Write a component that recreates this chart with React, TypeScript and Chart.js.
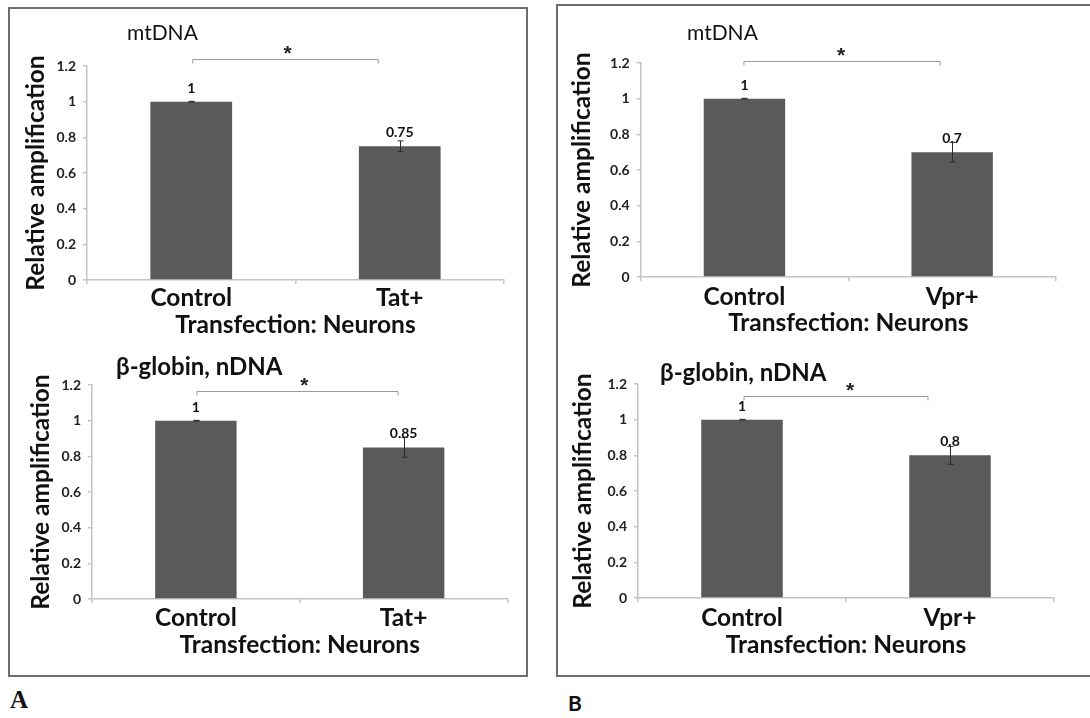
import React, { useEffect, useRef } from "react";
import { Chart, registerables } from "chart.js";

Chart.register(...registerables);

// ---------- data ----------
const categoriesTat = ["Control", "Tat+"];
const categoriesVpr = ["Control", "Vpr+"];

const mtTatValues = [1, 0.75];
const mtTatErrors = [0.002, 0.03];
const globinTatValues = [1, 0.85];
const globinTatErrors = [0.002, 0.055];
const mtVprValues = [1, 0.7];
const mtVprErrors = [0.002, 0.055];
const globinVprValues = [1, 0.8];
const globinVprErrors = [0.002, 0.05];

const yTicks = [0, 0.2, 0.4, 0.6, 0.8, 1, 1.2];
const yTickLabels = ["0", "0.2", "0.4", "0.6", "0.8", "1", "1.2"];

const titleMt = "mtDNA";
const titleGlobin = "\u03b2-globin, nDNA";
const xAxisTitle = "Transfection: Neurons";
const yAxisTitle = "Relative amplification";
const significanceMark = "*";

// ---------- style ----------
const FONT = "Lato, 'Open Sans', sans-serif";
const BAR = "#5a5a5a";
const AXIS = "#c4c4c4";
const TEXT = "#111111";
const BIG = 24.5;

type Spec = {
  left: number;
  top: number;
  width: number;
  height: number;
  categories: string[];
  values: number[];
  errors: number[];
  title: string;
  titleBold: boolean;
  titleSize: number;
  titleDx: number;
  titleDy: number;
  padTop: number;
  padRight: number;
  yWidth: number;
  xHeight: number;
  yTitlePad: number;
  xTickPad: number;
  sigLevel: number;
  sigStartDx: number;
  sigEndDx: number;
  starDx: number;
};

const specs: Spec[] = [
  {
    left: 10, top: 9, width: 516, height: 331,
    categories: categoriesTat, values: mtTatValues, errors: mtTatErrors,
    title: titleMt, titleBold: false, titleSize: 21, titleDx: 40, titleDy: -33,
    padTop: 57, padRight: 22, yWidth: 77, xHeight: 60, yTitlePad: 11, xTickPad: -1,
    sigLevel: 1.239, sigStartDx: 1.5, sigEndDx: -21.5, starDx: 2,
  },
  {
    left: 10, top: 340, width: 516, height: 320,
    categories: categoriesTat, values: globinTatValues, errors: globinTatErrors,
    title: titleGlobin, titleBold: true, titleSize: 24, titleDx: 24, titleDy: -18,
    padTop: 45, padRight: 18.5, yWidth: 82, xHeight: 61, yTitlePad: 16, xTickPad: 0,
    sigLevel: 1.166, sigStartDx: 1, sigEndDx: -5.6, starDx: 7,
  },
  {
    left: 560, top: 9, width: 530, height: 329,
    categories: categoriesVpr, values: mtVprValues, errors: mtVprErrors,
    title: titleMt, titleBold: false, titleSize: 21, titleDx: 46.4, titleDy: -30,
    padTop: 54, padRight: 34, yWidth: 80.6, xHeight: 61, yTitlePad: 7, xTickPad: 1,
    sigLevel: 1.211, sigStartDx: -0.5, sigEndDx: -12, starDx: -1,
  },
  {
    left: 560, top: 340, width: 530, height: 320,
    categories: categoriesVpr, values: globinVprValues, errors: globinVprErrors,
    title: titleGlobin, titleBold: true, titleSize: 24, titleDx: 22, titleDy: -11,
    padTop: 44, padRight: 36, yWidth: 78, xHeight: 62, yTitlePad: 8, xTickPad: 1,
    sigLevel: 1.133, sigStartDx: 2, sigEndDx: -22, starDx: 14,
  },
];

function makeAnnotations(spec: Spec) {
  return {
    id: "annotations",
    afterDraw(chart: any) {
      const { ctx, chartArea } = chart;
      const x = chart.scales.x;
      const y = chart.scales.y;
      ctx.save();
      // value labels
      ctx.fillStyle = TEXT;
      ctx.font = `bold 14px ${FONT}`;
      ctx.textAlign = "center";
      ctx.textBaseline = "middle";
      spec.values.forEach((v, i) => {
        const cx = x.getPixelForValue(i);
        ctx.fillText(String(v), cx, y.getPixelForValue(v) - 13.5);
      });
      // error bars
      ctx.strokeStyle = "#2a2a2a";
      ctx.lineWidth = 1;
      spec.values.forEach((v, i) => {
        const cx = Math.round(x.getPixelForValue(i)) + 0.5;
        const e = spec.errors[i];
        const yt = y.getPixelForValue(v + e);
        const yb = y.getPixelForValue(v - e);
        ctx.beginPath();
        ctx.moveTo(cx, yt);
        ctx.lineTo(cx, yb);
        ctx.moveTo(cx - 3, yt);
        ctx.lineTo(cx + 3, yt);
        ctx.moveTo(cx - 3, yb);
        ctx.lineTo(cx + 3, yb);
        ctx.stroke();
      });
      // significance bracket
      const x0 = x.getPixelForValue(0) + spec.sigStartDx;
      const x1 = x.getPixelForValue(1) + spec.sigEndDx;
      const ys = Math.round(y.getPixelForValue(spec.sigLevel)) + 0.5;
      ctx.strokeStyle = "#9a9a9a";
      ctx.lineWidth = 1;
      ctx.beginPath();
      ctx.moveTo(x0, ys + 4);
      ctx.lineTo(x0, ys);
      ctx.lineTo(x1, ys);
      ctx.lineTo(x1, ys + 4);
      ctx.stroke();
      ctx.fillStyle = "#222";
      ctx.font = "bold 21px 'Liberation Sans', Arial, sans-serif";
      ctx.textAlign = "center";
      ctx.textBaseline = "middle";
      ctx.fillText(significanceMark, (x0 + x1) / 2 + spec.starDx, ys - 5);
      // panel title
      ctx.fillStyle = TEXT;
      ctx.font = `${spec.titleBold ? "bold " : ""}${spec.titleSize}px ${FONT}`;
      ctx.textAlign = "left";
      ctx.textBaseline = "middle";
      ctx.fillText(spec.title, chartArea.left + spec.titleDx, chartArea.top + spec.titleDy);
      ctx.restore();
    },
  };
}

function BarPanel({ spec }: { spec: Spec }) {
  const ref = useRef<HTMLCanvasElement | null>(null);
  useEffect(() => {
    if (!ref.current) return;
    const chart = new Chart(ref.current, {
      type: "bar",
      data: {
        labels: spec.categories,
        datasets: [
          {
            data: spec.values,
            backgroundColor: BAR,
            borderWidth: 0,
            barPercentage: 0.392,
            categoryPercentage: 1,
          },
        ],
      },
      options: {
        animation: false,
        responsive: false,
        maintainAspectRatio: false,
        devicePixelRatio: 1,
        layout: { padding: { top: spec.padTop, right: spec.padRight, left: 0, bottom: 0 } },
        plugins: {
          legend: { display: false },
          tooltip: { enabled: false },
          title: { display: false },
        },
        scales: {
          x: {
            grid: {
              display: true,
              drawOnChartArea: false,
              drawTicks: true,
              tickLength: 4,
              color: AXIS,
              lineWidth: 1.5,
              offset: true,
            },
            border: { display: true, color: AXIS, width: 1.5 },
            ticks: {
              font: { family: FONT, size: BIG, weight: "bold" },
              color: TEXT,
              padding: spec.xTickPad,
              maxRotation: 0,
              autoSkip: false,
            },
            title: {
              display: true,
              text: xAxisTitle,
              font: { family: FONT, size: BIG, weight: "bold" },
              color: TEXT,
              padding: { top: 0, bottom: 0 },
            },
            afterFit: (s: any) => {
              s.height = spec.xHeight;
            },
          },
          y: {
            min: 0,
            max: 1.2,
            afterBuildTicks: (s: any) => {
              s.ticks = yTicks.map((v) => ({ value: v }));
            },
            ticks: {
              callback: (v: any) => yTickLabels[yTicks.indexOf(Number(v))] ?? String(v),
              font: { family: FONT, size: 14, weight: "bold" },
              color: "#222",
              padding: 7,
            },
            grid: {
              display: true,
              drawOnChartArea: false,
              drawTicks: true,
              tickLength: 4,
              color: AXIS,
              lineWidth: 1.5,
            },
            border: { display: true, color: AXIS, width: 1.5 },
            title: {
              display: true,
              text: yAxisTitle,
              font: { family: FONT, size: BIG, weight: "bold" },
              color: TEXT,
              padding: { top: spec.yTitlePad, bottom: 0 },
            },
            afterFit: (s: any) => {
              s.width = spec.yWidth;
            },
          },
        },
      },
      plugins: [makeAnnotations(spec)],
    } as any);
    return () => chart.destroy();
  }, [spec]);
  return (
    <canvas
      ref={ref}
      width={spec.width}
      height={spec.height}
      style={{
        position: "absolute",
        left: spec.left,
        top: spec.top,
        width: spec.width,
        height: spec.height,
      }}
    />
  );
}

export default function App() {
  return (
    <div
      style={{
        position: "fixed",
        left: 0,
        top: 0,
        width: 1090,
        height: 718,
        overflow: "hidden",
        background: "#ffffff",
      }}
    >
      <div
        style={{
          position: "absolute",
          left: 8,
          top: 7,
          width: 520,
          height: 670,
          border: "2px solid #6e6e6e",
          boxSizing: "border-box",
        }}
      />
      <div
        style={{
          position: "absolute",
          left: 556,
          top: 4,
          width: 560,
          height: 673,
          border: "2px solid #6e6e6e",
          boxSizing: "border-box",
        }}
      />
      {specs.map((s, i) => (
        <BarPanel key={i} spec={s} />
      ))}
      <div
        style={{
          position: "absolute",
          left: 10,
          top: 686,
          fontFamily: "'Liberation Serif', serif",
          fontWeight: "bold",
          fontSize: 25,
          lineHeight: "28px",
          color: "#111",
        }}
      >
        A
      </div>
      <div
        style={{
          position: "absolute",
          left: 568,
          top: 690,
          fontFamily: FONT,
          fontWeight: "bold",
          fontSize: 21,
          lineHeight: "26px",
          color: "#111",
        }}
      >
        B
      </div>
    </div>
  );
}
